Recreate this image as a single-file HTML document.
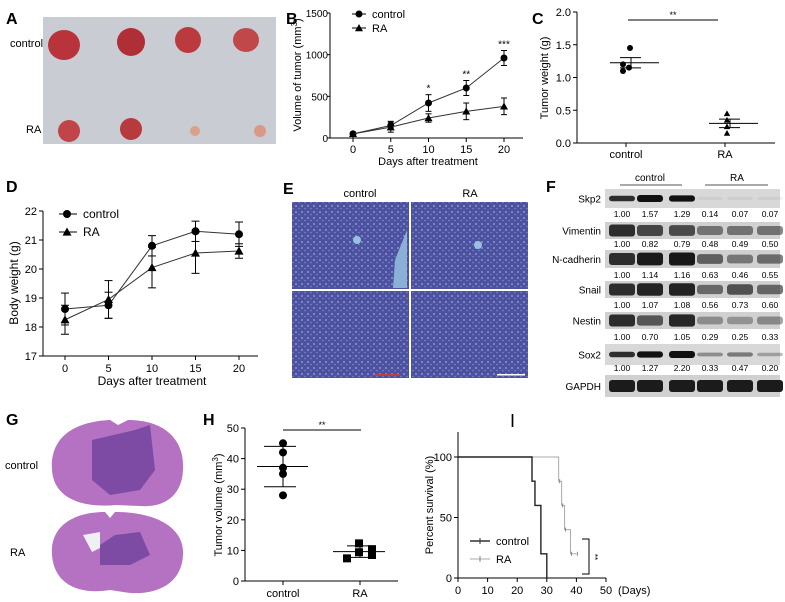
<!DOCTYPE html>
<html><head><meta charset="utf-8"><style>
html,body{margin:0;padding:0;background:#fff;}
svg{display:block;font-family:"Liberation Sans",Arial,sans-serif;}
</style></head><body>
<svg id="fig" width="785" height="602" viewBox="0 0 785 602">
<defs>
<pattern id="tissue" width="6" height="6" patternUnits="userSpaceOnUse">
<rect width="6" height="6" fill="#4d52a0"/><circle cx="2" cy="2" r="1" fill="#8a96d0"/><circle cx="5" cy="4.5" r="0.8" fill="#7a86c8"/>
</pattern>
</defs>
<g font-weight="bold" font-size="16" fill="#000">
<text x="6" y="24">A</text>
<text x="286" y="24">B</text>
<text x="532" y="24">C</text>
<text x="6" y="192">D</text>
<text x="283" y="194">E</text>
<text x="546" y="192">F</text>
<text x="6" y="425">G</text>
<text x="203" y="425">H</text>
<text x="510" y="427" font-weight="normal" font-size="18">I</text>
</g>
<g>
<rect x="43" y="17" width="233" height="127" fill="#c9ccd2"/>
<ellipse cx="64" cy="45" rx="16" ry="15" fill="#b8333a"/>
<ellipse cx="131" cy="42" rx="14" ry="14" fill="#b02e35"/>
<ellipse cx="188" cy="40" rx="13" ry="13" fill="#bb3a3e"/>
<ellipse cx="246" cy="40" rx="13" ry="12" fill="#c0474a"/>
<ellipse cx="69" cy="131" rx="11" ry="11" fill="#c04448"/>
<ellipse cx="131" cy="129" rx="11" ry="11" fill="#b63a3e"/>
<ellipse cx="195" cy="131" rx="5" ry="5" fill="#d9a08c"/>
<ellipse cx="260" cy="131" rx="6" ry="6" fill="#d99888"/>
</g>
<text x="10" y="47" font-size="11">control</text>
<text x="26" y="133" font-size="11">RA</text>
<g>
<rect x="292" y="202" width="236" height="176" fill="url(#tissue)"/>
<rect x="409" y="202" width="2" height="176" fill="#fff"/>
<rect x="292" y="289" width="236" height="2" fill="#fff"/>
<polygon points="395,260 407,230 407,288 393,288" fill="#8ab0d8"/>
<circle cx="357" cy="240" r="4" fill="#9ac0e0"/><circle cx="478" cy="245" r="4" fill="#9ac0e0"/>
<rect x="375" y="374" width="25" height="1.5" fill="#c04040"/><rect x="497" y="374" width="28" height="1.5" fill="#fff"/>
</g>
<text x="360" y="197" font-size="11" text-anchor="middle">control</text>
<text x="470" y="197" font-size="11" text-anchor="middle">RA</text>
<text transform="translate(289,246) rotate(-90)" font-size="11" text-anchor="middle" fill="#fff">Liver</text>
<text transform="translate(289,334) rotate(-90)" font-size="11" text-anchor="middle" fill="#fff">Kidney</text>
<g>
<path d="M52,470 C50,440 70,422 110,420 L118,425 L128,420 C165,420 185,440 183,470 C182,495 165,508 140,506 L116,505 C85,508 54,500 52,470Z" fill="#b572c2"/>
<path d="M92,440 L135,430 L150,425 L155,470 L140,490 L110,495 L92,480Z" fill="#7d4aa4"/>
<path d="M52,555 C50,525 75,512 105,512 L110,518 L115,512 C160,512 185,530 183,555 C182,580 162,595 130,593 L110,590 C80,595 54,585 52,555Z" fill="#b572c2"/>
<path d="M100,545 L115,535 L140,532 L150,555 L130,565 L100,565Z" fill="#7d4aa4"/>
<path d="M83,535 L100,532 L100,548 L92,552Z" fill="#eef0f4"/>
</g>
<text x="5" y="469" font-size="11">control</text>
<text x="10" y="556" font-size="11">RA</text>
<g id="blots"></g>
<g id="charts"></g>
</svg>
<script>
const bDays=[0,5,10,15,20];
const bControl=[50,150,420,600,960];
const bControlErr=[20,50,100,90,90];
const bRA=[50,130,240,320,380];
const bRAErr=[20,60,50,100,100];
const bStars=["","","*","**","***"];
const bYTicks=[0,500,1000,1500];
const cControl=[1.45,1.2,1.15,1.1];
const cRA=[0.45,0.35,0.25,0.15];
const cYTicks=[0,0.5,1.0,1.5,2.0];
const dDays=[0,5,10,15,20];
const dControl=[18.62,18.75,20.8,21.3,21.2];
const dControlErr=[0.55,0.45,0.35,0.35,0.42];
const dRA=[18.25,18.95,20.05,20.55,20.62];
const dRAErr=[0.5,0.65,0.7,0.7,0.25];
const dYTicks=[17,18,19,20,21,22];
const hControl=[45,42,37,35,28];
const hRA=[7.4,9.4,12.3,10.4,8.5];
const hYTicks=[0,10,20,30,40,50];
const iControlT=[0,25,26,28,30];
const iControlS=[100,80,60,20,0];
const iRAT=[0,34,35,36,38,40];
const iRAS=[100,80,60,40,20,20];
const iXTicks=[0,10,20,30,40,50];
const iYTicks=[0,50,100];
const fProteins=["Skp2","Vimentin","N-cadherin","Snail","Nestin","Sox2","GAPDH"];
const fValues=[[1.00,1.57,1.29,0.14,0.07,0.07],[1.00,0.82,0.79,0.48,0.49,0.50],[1.00,1.14,1.16,0.63,0.46,0.55],[1.00,1.07,1.08,0.56,0.73,0.60],[1.00,0.70,1.05,0.29,0.25,0.33],[1.00,1.27,2.20,0.33,0.47,0.20],null];

const NS="http://www.w3.org/2000/svg";
const root=document.getElementById('charts');
function mk(tag,attrs,parent,txt){const e=document.createElementNS(NS,tag);for(const k in attrs)e.setAttribute(k,attrs[k]);if(txt!==undefined)e.textContent=txt;(parent||root).appendChild(e);return e;}
function line(g,x1,y1,x2,y2,c,w){return mk('line',{x1,y1,x2,y2,stroke:c||'#000','stroke-width':w||1},g);}
function tri(g,x,y,s){return mk('polygon',{points:`${x},${y-s} ${x-s},${y+s*0.8} ${x+s},${y+s*0.8}`,fill:'#000'},g);}

(function(){
const g=mk('g',{});


const X=d=>353+d*(504-353)/20, Y=v=>138-v*125/1500;
line(g,330,13,330,138);line(g,330,138,523,138);
bYTicks.forEach(t=>{line(g,327,Y(t),330,Y(t));const tx=mk('text',{x:328,y:Y(t)+4,'font-size':10,'text-anchor':'end'},g,String(t));

});
bDays.forEach(d=>{line(g,X(d),138,X(d),142);const tx=mk('text',{x:X(d),y:153,'font-size':11,'text-anchor':'middle'},g,String(d));

});
const xt=mk('text',{x:428,y:165,'font-size':11,'text-anchor':'middle'},g,'Days after treatment');


const yt=mk('text',{transform:'translate(301,75) rotate(-90)','font-size':11,'text-anchor':'middle'},g);
yt.innerHTML='Volume of tumor (mm<tspan dy="-4" font-size="8">3</tspan><tspan dy="4">)</tspan>';


[[bControl,bControlErr,'c'],[bRA,bRAErr,'t']].forEach(([vals,err,m])=>{
mk('polyline',{points:vals.map((v,i)=>X(bDays[i])+','+Y(v)).join(' '),fill:'none',stroke:'#333','stroke-width':1},g);
vals.forEach((v,i)=>{const x=X(bDays[i]);line(g,x,Y(v-err[i]),x,Y(v+err[i]));line(g,x-3,Y(v+err[i]),x+3,Y(v+err[i]));line(g,x-3,Y(v-err[i]),x+3,Y(v-err[i]));
let p=m==='c'?mk('circle',{cx:x,cy:Y(v),r:3.5,fill:'#000'},g):tri(g,x,Y(v),4);

});});
bStars.forEach((s,i)=>{if(s){const t=mk('text',{x:X(bDays[i]),y:Y(bControl[i]+bControlErr[i])-3,'font-size':10,'text-anchor':'middle'},g,s);

}});
line(g,352,14,366,14);mk('circle',{cx:359,cy:14,r:3.5},g);
line(g,352,28,366,28);tri(g,359,28,4);
const l1=mk('text',{x:372,y:18,'font-size':11},g,'control');


const l2=mk('text',{x:372,y:32,'font-size':11},g,'RA');


})();

(function(){
const g=mk('g',{});


const Y=v=>143-v*131/2;
line(g,577,12,577,143);line(g,577,143,775,143);
cYTicks.forEach(t=>{line(g,573,Y(t),577,Y(t));const tx=mk('text',{x:571,y:Y(t)+4,'font-size':11,'text-anchor':'end'},g,t.toFixed(1));

});
[['control',626],['RA',725]].forEach(([n,x])=>{line(g,x,143,x,147);const tx=mk('text',{x,y:158,'font-size':11,'text-anchor':'middle'},g,n);

});
const yt=mk('text',{transform:'translate(548,78) rotate(-90)','font-size':11,'text-anchor':'middle'},g,'Tumor weight (g)');


function stats(a){const m=a.reduce((s,v)=>s+v,0)/a.length;const sd=Math.sqrt(a.reduce((s,v)=>s+(v-m)*(v-m),0)/(a.length-1));return [m,sd/Math.sqrt(a.length)];}
[[cControl,626,'c'],[cRA,725,'t']].forEach(([vals,cx,m])=>{
vals.forEach((v,i)=>{const x=cx+(i===0?4:(i===1?-3:(i===2?3:-3)));let p=m==='c'?mk('circle',{cx:x,cy:Y(v),r:3,fill:'#000'},g):tri(g,cx+2,Y(v),3.2);

});
const [mn,se]=stats(vals);line(g,cx-16,Y(mn),cx+33,Y(mn));line(g,cx-6,Y(mn+se),cx+15,Y(mn+se));line(g,cx-6,Y(mn-se),cx+15,Y(mn-se));line(g,cx+5,Y(mn+se),cx+5,Y(mn-se));
});
line(g,628,20,718,20);
const s=mk('text',{x:673,y:18,'font-size':9,'text-anchor':'middle'},g,'**');


})();

(function(){
const g=mk('g',{});


const X=d=>65+d*(239-65)/20, Y=v=>356-(v-17)*145/5;
line(g,43,211,43,356);line(g,43,356,258,356);
dYTicks.forEach(t=>{line(g,39,Y(t),43,Y(t));const tx=mk('text',{x:37,y:Y(t)+4,'font-size':11,'text-anchor':'end'},g,String(t));

});
dDays.forEach(d=>{line(g,X(d),356,X(d),360);const tx=mk('text',{x:X(d),y:372,'font-size':11,'text-anchor':'middle'},g,String(d));

});
const xt=mk('text',{x:152,y:385,'font-size':12,'text-anchor':'middle'},g,'Days after treatment');


const yt=mk('text',{transform:'translate(18,283) rotate(-90)','font-size':12,'text-anchor':'middle'},g,'Body weight (g)');


[[dControl,dControlErr,'c'],[dRA,dRAErr,'t']].forEach(([vals,err,m])=>{
mk('polyline',{points:vals.map((v,i)=>X(dDays[i])+','+Y(v)).join(' '),fill:'none',stroke:'#333','stroke-width':1},g);
vals.forEach((v,i)=>{const x=X(dDays[i]);line(g,x,Y(v-err[i]),x,Y(v+err[i]));line(g,x-4,Y(v+err[i]),x+4,Y(v+err[i]));line(g,x-4,Y(v-err[i]),x+4,Y(v-err[i]));
let p=m==='c'?mk('circle',{cx:x,cy:Y(v),r:4,fill:'#000'},g):tri(g,x,Y(v),4.5);

});});
line(g,59,214,77,214);mk('circle',{cx:67,cy:214,r:4},g);
line(g,59,232,77,232);tri(g,67,232,4.5);
const l1=mk('text',{x:83,y:218,'font-size':12},g,'control');


const l2=mk('text',{x:83,y:236,'font-size':12},g,'RA');


})();

(function(){
const g=mk('g',{});


const Y=v=>581-v*153/50;
line(g,245,428,245,581);line(g,245,581,398,581);
hYTicks.forEach(t=>{line(g,241,Y(t),245,Y(t));const tx=mk('text',{x:239,y:Y(t)+4,'font-size':11,'text-anchor':'end'},g,String(t));

});
[['control',283],['RA',360]].forEach(([n,x])=>{line(g,x,581,x,585);const tx=mk('text',{x,y:597,'font-size':11,'text-anchor':'middle'},g,n);

});
const yt=mk('text',{transform:'translate(222,505) rotate(-90)','font-size':11,'text-anchor':'middle'},g);
yt.innerHTML='Tumor volume (mm<tspan dy="-4" font-size="8">3</tspan><tspan dy="4">)</tspan>';


function ms(a){const m=a.reduce((s,v)=>s+v,0)/a.length;const sd=Math.sqrt(a.reduce((s,v)=>s+(v-m)*(v-m),0)/(a.length-1));return [m,sd];}
const [cm,csd]=ms(hControl);
line(g,257,Y(cm),308,Y(cm));line(g,264,Y(cm+csd),296,Y(cm+csd));line(g,264,Y(cm-csd),296,Y(cm-csd));line(g,283,Y(cm+csd),283,Y(cm-csd));
hControl.forEach(v=>{const p=mk('circle',{cx:283,cy:Y(v),r:4,fill:'#000'},g);

});
const [rm,rsd]=ms(hRA);
line(g,333,Y(rm),385,Y(rm));line(g,347,Y(rm+rsd),372,Y(rm+rsd));line(g,347,Y(rm-rsd),372,Y(rm-rsd));line(g,360,Y(rm+rsd),360,Y(rm-rsd));
const rx=[347,359,359,372,372];
hRA.forEach((v,i)=>{const p=mk('rect',{x:rx[i]-4,y:Y(v)-4,width:8,height:8,fill:'#000'},g);

});
line(g,283,430,361,430);
const s=mk('text',{x:322,y:428,'font-size':9,'text-anchor':'middle'},g,'**');


})();

(function(){
const g=mk('g',{});


const X=d=>458+d*(606-458)/50, Y=v=>578-v*121/100;
line(g,458,432,458,578);line(g,458,578,606,578);
iYTicks.forEach(t=>{line(g,454,Y(t),458,Y(t));const tx=mk('text',{x:452,y:Y(t)+4,'font-size':11,'text-anchor':'end'},g,String(t));

});
iXTicks.forEach(t=>{line(g,X(t),578,X(t),582);const tx=mk('text',{x:X(t),y:594,'font-size':11,'text-anchor':'middle'},g,String(t));

});
const dl=mk('text',{x:618,y:594,'font-size':11},g,'(Days)');


const yt=mk('text',{transform:'translate(433,505) rotate(-90)','font-size':11,'text-anchor':'middle'},g,'Percent survival (%)');


function steps(T,S){let d=`M${X(T[0])},${Y(S[0])}`;for(let i=1;i<T.length;i++){d+=` H${X(T[i])} V${Y(S[i])}`;}return d;}
const ra=mk('path',{d:steps(iRAT,iRAS),fill:'none',stroke:'#aaa','stroke-width':1},g);


for(let i=1;i<iRAT.length;i++){line(g,X(iRAT[i])+1,Y(iRAS[i])-2,X(iRAT[i])+1,Y(iRAS[i])+2,'#888');}
const co=mk('path',{d:steps(iControlT,iControlS),fill:'none',stroke:'#222','stroke-width':1.4},g);


line(g,470,541,490,541,'#333',1.4);line(g,480,538,480,544,'#333');
line(g,470,559,490,559,'#aaa');line(g,480,556,480,562,'#888');
const l1=mk('text',{x:496,y:545,'font-size':11},g,'control');


const l2=mk('text',{x:496,y:563,'font-size':11},g,'RA');


mk('path',{d:'M582,539 H589 V574 H582',fill:'none',stroke:'#000'},g);
const s=mk('text',{transform:'translate(592,557) rotate(90)','font-size':8,'text-anchor':'middle'},g,'**');


})();

(function(){
const g=document.getElementById('blots');
const lanes=[622,650,682,710,740,770];
const rowTop=[189,222,250,281,312,344,375];
const rowH=[19,17,18,17,17,21,22];
const numY=[217,247,278,308,340,371];
mk('text',{x:650,y:181,'font-size':10,'text-anchor':'middle'},g,'control');
mk('text',{x:737,y:181,'font-size':10,'text-anchor':'middle'},g,'RA');
line(g,620,185,682,185,'#555');line(g,705,185,768,185,'#555');
fProteins.forEach((p,r)=>{
const bg=mk('rect',{x:605,y:rowTop[r],width:175,height:rowH[r],fill:r===0||r===5?'#d8d8d8':'#d0d0d0'},g);


const t=mk('text',{x:601,y:rowTop[r]+rowH[r]/2+4,'font-size':10,'text-anchor':'end'},g,p);


const vals=fValues[r];
lanes.forEach((x,i)=>{
let v=vals?vals[i]:1.0;let h=r===0||r===5?Math.min(7,3+v*2.5):Math.min(rowH[r]-4,6+v*6);
let op=vals?Math.min(1,0.15+v*0.7):0.95;
if(r===0&&v<0.2)op=0.05;
mk('rect',{x:x-13,y:rowTop[r]+rowH[r]/2-h/2,width:26,height:h,rx:3,fill:'#111','fill-opacity':op},g);
if(vals){const n=mk('text',{x,y:numY[r],'font-size':8.5,'text-anchor':'middle'},g,v.toFixed(2));

}
});
});
})();
</script>
</body></html>
